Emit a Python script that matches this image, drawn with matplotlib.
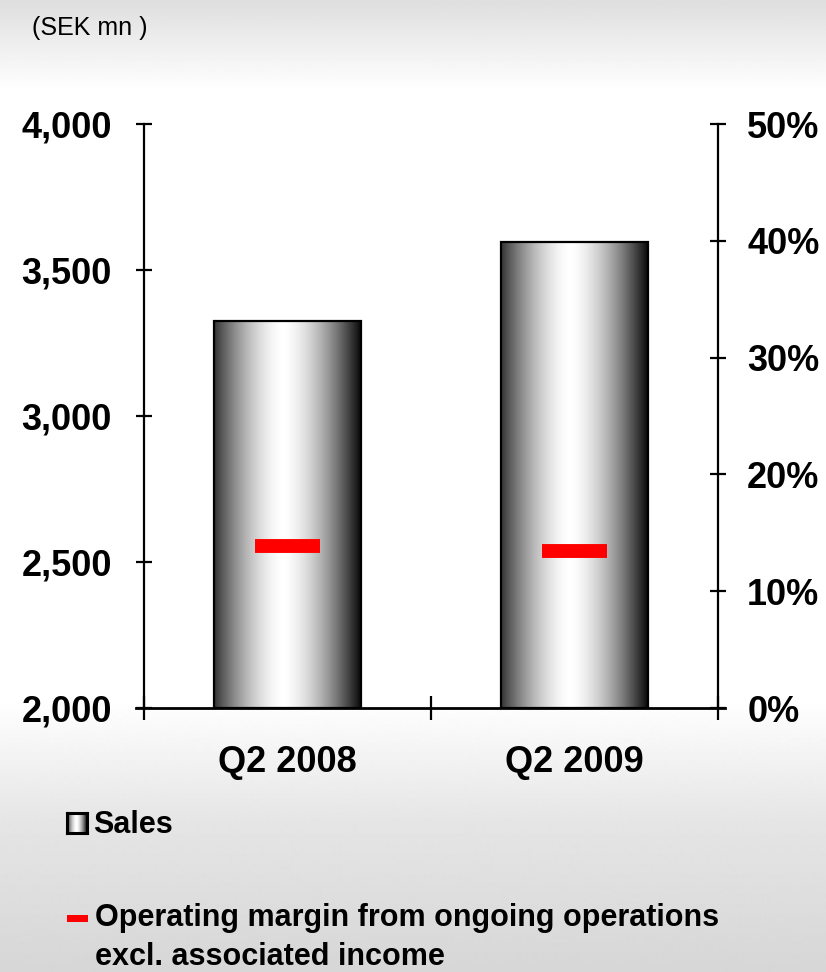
import numpy as np
import matplotlib
matplotlib.use('Agg')
import matplotlib.pyplot as plt
from matplotlib.patches import Rectangle
from matplotlib.lines import Line2D

# Quarterly figures
quarters = ["Q2 2008", "Q2 2009"]
sales = [3325, 3597]               # SEK mn
op_margin = [13.9, 13.4]           # %

sales_ticks = [2000, 2500, 3000, 3500, 4000]
margin_ticks = [0, 10, 20, 30, 40, 50]

plt.rcParams['font.family'] = ['Liberation Sans', 'DejaVu Sans']

FIG_W, FIG_H = 826, 972
fig = plt.figure(figsize=(FIG_W / 100, FIG_H / 100), dpi=100)

# ---- Page background: grey fade at top and bottom ----
bg = fig.add_axes([0, 0, 1, 1], zorder=-10)
rows = np.arange(FIG_H)
shade = np.interp(rows, [0, 90, 700, 820, 972], [0.87, 1.0, 1.0, 0.90, 0.84])
bg.imshow(shade[:, None], cmap='gray', vmin=0, vmax=1, aspect='auto',
          extent=[0, 1, 0, 1], origin='upper')
bg.set_axis_off()

# ---- Main axes ----
left, right = 144 / FIG_W, 718 / FIG_W
bottom, top = 1 - 708 / FIG_H, 1 - 124 / FIG_H
ax = fig.add_axes([left, bottom, right - left, top - bottom])
ax.patch.set_alpha(0)

x = np.arange(len(quarters))
bar_w = 0.51


def cylinder(n=200):
    t = np.linspace(-1, 1, n)
    u = (t + 0.06) / 1.06
    v = 1 - np.clip(np.abs(u), 0, 1) ** 1.6
    return 0.04 + 0.96 * v


grad = cylinder()[None, :]
for xi, s in zip(x, sales):
    ax.imshow(grad, cmap='gray', vmin=0, vmax=1, aspect='auto',
              extent=[xi - bar_w / 2, xi + bar_w / 2, sales_ticks[0], s],
              zorder=2, interpolation='bilinear')
    ax.add_patch(Rectangle((xi - bar_w / 2, sales_ticks[0]), bar_w, s - sales_ticks[0],
                           facecolor='none', edgecolor='black', linewidth=1.6, zorder=3))

ax.set_xlim(-0.5, len(quarters) - 0.5)
ax.set_ylim(sales_ticks[0], sales_ticks[-1])
ax.set_yticks(sales_ticks)
ax.set_yticklabels([f"{v:,}" for v in sales_ticks], fontsize=26, fontweight='bold')
ax.set_xticks(np.arange(len(quarters) + 1) - 0.5)
ax.set_xticklabels([])
ax.tick_params(axis='y', direction='inout', length=12, width=1.6, pad=17)
ax.tick_params(axis='x', direction='inout', length=17, width=1.6)
for side in ('top', 'right', 'bottom'):
    ax.spines[side].set_visible(False)
ax.spines['left'].set_linewidth(1.6)

# baseline runs a little past both vertical axes
ax.add_line(Line2D([-0.014, 1.012], [0, 0], transform=ax.transAxes,
                   color='black', linewidth=2.0, clip_on=False, zorder=4))

for xi, q in zip(x, quarters):
    ax.text(xi, -0.094, q, transform=ax.get_xaxis_transform(), ha='center', va='center',
            fontsize=26, fontweight='bold')

# ---- Secondary axis: operating margin ----
ax2 = ax.twinx()
ax2.set_ylim(margin_ticks[0], margin_ticks[-1])
ax2.set_yticks(margin_ticks)
ax2.set_yticklabels([f"{v}%" for v in margin_ticks], fontsize=26, fontweight='bold')
ax2.tick_params(axis='y', direction='inout', length=12, width=1.6, pad=15)
for side in ('top', 'left', 'bottom'):
    ax2.spines[side].set_visible(False)
ax2.spines['right'].set_linewidth(1.6)
ax2.hlines(op_margin, x - 0.112, x + 0.112, colors='#ff0000', linewidth=10, zorder=5)

# ---- Unit label and legend ----
fig.text(32 / FIG_W, 1 - 28 / FIG_H, "(SEK mn )", fontsize=18, va='center', ha='left')

sw = fig.add_axes([67 / FIG_W, 1 - 833 / FIG_H, 20 / FIG_W, 20 / FIG_H])
sw.imshow(cylinder(40)[None, :], cmap='gray', vmin=0, vmax=1, aspect='auto')
sw.set_xticks([])
sw.set_yticks([])
for sp in sw.spines.values():
    sp.set_linewidth(2.2)
fig.text(93 / FIG_W, 1 - 825 / FIG_H, "Sales", fontsize=22, fontweight='bold',
         va='center', ha='left')

fig.patches.append(Rectangle((67 / FIG_W, 1 - 922 / FIG_H), 21 / FIG_W, 7 / FIG_H,
                             transform=fig.transFigure, facecolor='#ff0000',
                             edgecolor='none'))
fig.text(95 / FIG_W, 1 - 918 / FIG_H, "Operating margin from ongoing operations",
         fontsize=22, fontweight='bold', va='center', ha='left')
fig.text(95 / FIG_W, 1 - 957 / FIG_H, "excl. associated income",
         fontsize=22, fontweight='bold', va='center', ha='left')

fig.savefig("out.png", dpi=100)
